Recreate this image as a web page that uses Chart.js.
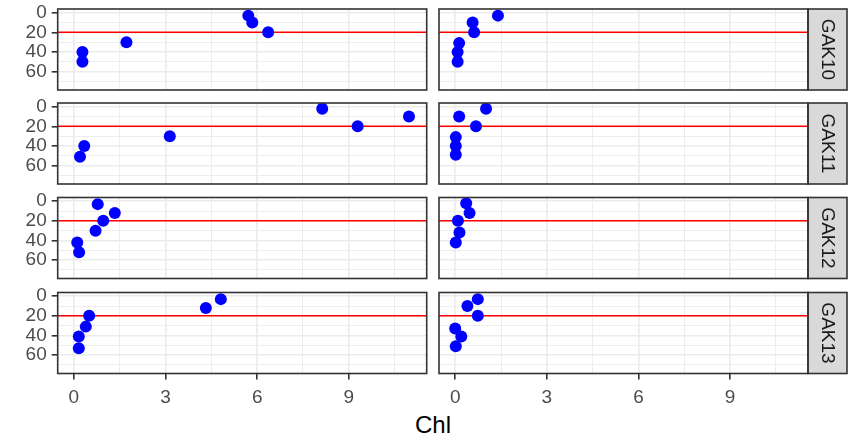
<!DOCTYPE html>
<html>
<head>
<meta charset="utf-8">
<script src="https://cdn.jsdelivr.net/npm/chart.js@4"></script>
<style>
  body { margin: 0; background: #fff; }
  #wrap { position: relative; width: 850px; height: 436px; overflow: hidden; font-family: "Liberation Sans", Arial, sans-serif; }
  #wrap canvas { position: absolute; left: 0; top: -40px; }
  #xtitle { position: absolute; left: 0; width: 866px; top: 411px; text-align: center; font-size: 24px; color: #000; }
</style>
</head>
<body>
<div id="wrap"><div id="xtitle">Chl</div></div>
<script>
const stations = ['GAK10', 'GAK11', 'GAK12', 'GAK13'];

// Chl (x) and depth (y) per station, left and right column
const gak10ChlL = [0.28, 0.28, 1.72, 5.71, 5.84, 6.36];
const gak10DepthL = [40, 50, 30, 3, 10, 20];
const gak10ChlR = [1.40, 0.57, 0.62, 0.13, 0.08, 0.08];
const gak10DepthR = [3, 10, 20, 31, 40, 50];

const gak11ChlL = [8.13, 9.29, 10.97, 3.14, 0.34, 0.20];
const gak11DepthL = [2, 20, 10, 30, 40, 51];
const gak11ChlR = [1.01, 0.13, 0.68, 0.02, 0.02, 0.02];
const gak11DepthR = [2, 10, 20, 31, 40, 49];

const gak12ChlL = [0.78, 1.34, 0.96, 0.71, 0.11, 0.17];
const gak12DepthL = [3, 12, 20, 30, 42, 52];
const gak12ChlR = [0.36, 0.47, 0.09, 0.14, 0.02];
const gak12DepthR = [2, 12, 20, 32, 42];

const gak13ChlL = [4.81, 4.32, 0.50, 0.39, 0.16, 0.16];
const gak13DepthL = [3, 12, 20, 31, 41, 53];
const gak13ChlR = [0.74, 0.40, 0.74, 0.00, 0.20, 0.02];
const gak13DepthR = [3, 10, 20, 33, 41, 51];

const refDepth = 20;

const xTicks = [0, 3, 6, 9];
const xGrid = [0, 1.5, 3, 4.5, 6, 7.5, 9, 10.5];
const yTicks = [0, 20, 40, 60];
const yGrid = [0, 10, 20, 30, 40, 50, 60, 70];
const xMin = -0.53, xMax = 11.55;
const yMin = -3.75, yMax = 78.75;

// layout (page pixels); canvases are 40px taller on each side so tick labels never push the panels
const OFF = 40;
const CW = 850, CH = 436 + 2 * OFF;
const panelLeft = [57.7, 439];
const panelRight = [426.7, 808];
const panelTop = [9, 103, 197.5, 292.5];
const panelH = 81;
const stripW = 39;
const FONT = '"Liberation Sans", Arial, sans-serif';

const panelData = [
  [[gak10ChlL, gak10DepthL], [gak10ChlR, gak10DepthR]],
  [[gak11ChlL, gak11DepthL], [gak11ChlR, gak11DepthR]],
  [[gak12ChlL, gak12DepthL], [gak12ChlR, gak12DepthR]],
  [[gak13ChlL, gak13DepthL], [gak13ChlR, gak13DepthR]]
];

// full border round each panel, plus the grey strip on the right column
const panelFrame = {
  id: 'panelFrame',
  afterDraw(chart, args, opts) {
    const a = chart.chartArea, ctx = chart.ctx;
    ctx.save();
    if (opts.strip) {
      ctx.fillStyle = '#D9D9D9';
      ctx.fillRect(a.right, a.top, stripW, a.bottom - a.top);
      ctx.strokeStyle = '#333333';
      ctx.lineWidth = 1.6;
      ctx.strokeRect(a.right, a.top, stripW, a.bottom - a.top);
      ctx.translate(a.right + stripW / 2, (a.top + a.bottom) / 2);
      ctx.rotate(Math.PI / 2);
      ctx.fillStyle = '#1A1A1A';
      ctx.font = '19px ' + FONT;
      ctx.textAlign = 'center';
      ctx.textBaseline = 'middle';
      ctx.fillText(opts.strip, 0, 0);
      ctx.setTransform(1, 0, 0, 1, 0, 0);
    }
    ctx.strokeStyle = '#333333';
    ctx.lineWidth = 1.6;
    ctx.strokeRect(a.left, a.top, a.right - a.left, a.bottom - a.top);
    ctx.restore();
  }
};

const wrap = document.getElementById('wrap');

function makePanel(row, col) {
  const cv = document.createElement('canvas');
  cv.width = CW;
  cv.height = CH;
  wrap.appendChild(cv);

  const [chl, depth] = panelData[row][col];
  const pts = chl.map((v, i) => ({ x: v, y: depth[i] }));
  const yW = col === 0 ? panelLeft[0] : 0;
  const xH = row === 3 ? 32 : 0;

  new Chart(cv, {
    type: 'scatter',
    data: {
      datasets: [
        { data: pts, pointRadius: 6, pointBackgroundColor: '#0000FF', pointBorderColor: '#0000FF', pointBorderWidth: 0 },
        { type: 'line', data: [{ x: xMin, y: refDepth }, { x: xMax, y: refDepth }],
          borderColor: '#FF0000', borderWidth: 1.5, pointRadius: 0 }
      ]
    },
    options: {
      responsive: false,
      animation: false,
      events: [],
      layout: {
        padding: {
          left: panelLeft[col] - yW,
          right: CW - panelRight[col],
          top: OFF + panelTop[row],
          bottom: CH - OFF - panelTop[row] - panelH - xH
        }
      },
      plugins: {
        legend: { display: false },
        tooltip: { enabled: false },
        panelFrame: { strip: col === 1 ? stations[row] : null }
      },
      scales: {
        x: {
          type: 'linear', min: xMin, max: xMax,
          afterBuildTicks: s => { s.ticks = xGrid.map(v => ({ value: v })); },
          afterFit: s => { s.height = xH; },
          border: { display: false },
          grid: {
            color: '#EBEBEB',
            lineWidth: c => xTicks.includes(c.tick.value) ? 1.6 : 0.9,
            drawTicks: row === 3,
            tickLength: 6,
            tickWidth: 1.6,
            tickColor: c => xTicks.includes(c.tick.value) ? '#333333' : 'rgba(0,0,0,0)'
          },
          ticks: {
            display: row === 3, autoSkip: false, maxRotation: 0, padding: 7,
            color: '#4D4D4D', font: { size: 19, family: FONT },
            callback: v => xTicks.includes(v) ? String(v) : ''
          }
        },
        y: {
          type: 'linear', min: yMin, max: yMax, reverse: true,
          afterBuildTicks: s => { s.ticks = yGrid.map(v => ({ value: v })); },
          afterFit: s => { s.width = yW; },
          border: { display: false },
          grid: {
            color: '#EBEBEB',
            lineWidth: c => yTicks.includes(c.tick.value) ? 1.6 : 0.9,
            drawTicks: col === 0,
            tickLength: 6,
            tickWidth: 1.6,
            tickColor: c => yTicks.includes(c.tick.value) ? '#333333' : 'rgba(0,0,0,0)'
          },
          ticks: {
            display: col === 0, autoSkip: false, padding: 5,
            color: '#4D4D4D', font: { size: 19, family: FONT },
            callback: v => yTicks.includes(v) ? String(v) : ''
          }
        }
      }
    },
    plugins: [panelFrame]
  });
}

for (let r = 0; r < 4; r++) {
  for (let c = 0; c < 2; c++) makePanel(r, c);
}
</script>
</body>
</html>
